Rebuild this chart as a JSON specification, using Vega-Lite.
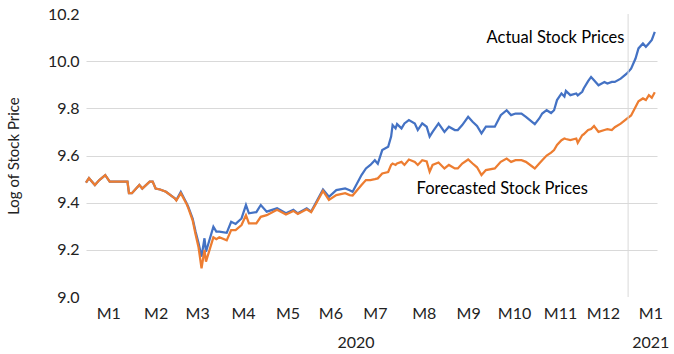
{
  "$schema": "https://vega.github.io/schema/vega-lite/v6.json",
  "width": 571,
  "height": 283,
  "autosize": {"type": "none"},
  "padding": {"left": 86, "top": 14, "right": 17, "bottom": 57},
  "config": {"font": "Lato", "view": {"stroke": null}, "background": "white"},
  "resolve": {"axis": {"x": "independent"}},
  "layer": [
    {
      "data": {"values": [
        {"date": "2020-01-01", "actual": 9.485, "forecast": 9.485},
        {"date": "2020-01-03", "actual": 9.504, "forecast": 9.504},
        {"date": "2020-01-07", "actual": 9.475, "forecast": 9.475},
        {"date": "2020-01-10", "actual": 9.496, "forecast": 9.496},
        {"date": "2020-01-14", "actual": 9.517, "forecast": 9.517},
        {"date": "2020-01-17", "actual": 9.489, "forecast": 9.489},
        {"date": "2020-01-29", "actual": 9.489, "forecast": 9.489},
        {"date": "2020-01-30", "actual": 9.44, "forecast": 9.44},
        {"date": "2020-02-01", "actual": 9.44, "forecast": 9.44},
        {"date": "2020-02-06", "actual": 9.475, "forecast": 9.475},
        {"date": "2020-02-08", "actual": 9.46, "forecast": 9.46},
        {"date": "2020-02-13", "actual": 9.489, "forecast": 9.489},
        {"date": "2020-02-15", "actual": 9.489, "forecast": 9.489},
        {"date": "2020-02-17", "actual": 9.46, "forecast": 9.46},
        {"date": "2020-02-20", "actual": 9.456, "forecast": 9.456},
        {"date": "2020-02-24", "actual": 9.446, "forecast": 9.446},
        {"date": "2020-03-01", "actual": 9.418, "forecast": 9.418},
        {"date": "2020-03-02", "actual": 9.411, "forecast": 9.409},
        {"date": "2020-03-05", "actual": 9.446, "forecast": 9.44},
        {"date": "2020-03-09", "actual": 9.397, "forecast": 9.393},
        {"date": "2020-03-10", "actual": 9.383, "forecast": 9.378},
        {"date": "2020-03-13", "actual": 9.333, "forecast": 9.325},
        {"date": "2020-03-15", "actual": 9.277, "forecast": 9.265},
        {"date": "2020-03-17", "actual": 9.228, "forecast": 9.21},
        {"date": "2020-03-19", "actual": 9.171, "forecast": 9.122},
        {"date": "2020-03-21", "actual": 9.249, "forecast": 9.2},
        {"date": "2020-03-22", "actual": 9.192, "forecast": 9.15},
        {"date": "2020-03-27", "actual": 9.298, "forecast": 9.253},
        {"date": "2020-03-29", "actual": 9.277, "forecast": 9.245},
        {"date": "2020-03-31", "actual": 9.277, "forecast": 9.253},
        {"date": "2020-04-05", "actual": 9.272, "forecast": 9.24},
        {"date": "2020-04-08", "actual": 9.319, "forecast": 9.284},
        {"date": "2020-04-11", "actual": 9.31, "forecast": 9.284},
        {"date": "2020-04-15", "actual": 9.333, "forecast": 9.305},
        {"date": "2020-04-18", "actual": 9.39, "forecast": 9.347},
        {"date": "2020-04-20", "actual": 9.355, "forecast": 9.312},
        {"date": "2020-04-25", "actual": 9.36, "forecast": 9.312},
        {"date": "2020-04-28", "actual": 9.39, "forecast": 9.34},
        {"date": "2020-05-02", "actual": 9.362, "forecast": 9.347},
        {"date": "2020-05-09", "actual": 9.376, "forecast": 9.37},
        {"date": "2020-05-15", "actual": 9.355, "forecast": 9.35},
        {"date": "2020-05-20", "actual": 9.37, "forecast": 9.365},
        {"date": "2020-05-23", "actual": 9.355, "forecast": 9.352},
        {"date": "2020-05-29", "actual": 9.376, "forecast": 9.372},
        {"date": "2020-06-01", "actual": 9.362, "forecast": 9.36},
        {"date": "2020-06-04", "actual": 9.397, "forecast": 9.392},
        {"date": "2020-06-09", "actual": 9.456, "forecast": 9.45},
        {"date": "2020-06-13", "actual": 9.425, "forecast": 9.412},
        {"date": "2020-06-18", "actual": 9.453, "forecast": 9.432},
        {"date": "2020-06-24", "actual": 9.46, "forecast": 9.44},
        {"date": "2020-06-27", "actual": 9.453, "forecast": 9.432},
        {"date": "2020-06-29", "actual": 9.446, "forecast": 9.43},
        {"date": "2020-07-05", "actual": 9.517, "forecast": 9.475},
        {"date": "2020-07-08", "actual": 9.545, "forecast": 9.496},
        {"date": "2020-07-11", "actual": 9.56, "forecast": 9.496},
        {"date": "2020-07-14", "actual": 9.58, "forecast": 9.5},
        {"date": "2020-07-16", "actual": 9.565, "forecast": 9.503},
        {"date": "2020-07-19", "actual": 9.623, "forecast": 9.524},
        {"date": "2020-07-23", "actual": 9.637, "forecast": 9.53},
        {"date": "2020-07-25", "actual": 9.68, "forecast": 9.56},
        {"date": "2020-07-26", "actual": 9.729, "forecast": 9.566},
        {"date": "2020-07-28", "actual": 9.715, "forecast": 9.56},
        {"date": "2020-07-29", "actual": 9.733, "forecast": 9.566},
        {"date": "2020-08-01", "actual": 9.715, "forecast": 9.573},
        {"date": "2020-08-03", "actual": 9.736, "forecast": 9.56},
        {"date": "2020-08-06", "actual": 9.75, "forecast": 9.583},
        {"date": "2020-08-10", "actual": 9.736, "forecast": 9.573},
        {"date": "2020-08-12", "actual": 9.708, "forecast": 9.56},
        {"date": "2020-08-15", "actual": 9.736, "forecast": 9.58},
        {"date": "2020-08-18", "actual": 9.722, "forecast": 9.575},
        {"date": "2020-08-20", "actual": 9.68, "forecast": 9.531},
        {"date": "2020-08-22", "actual": 9.7, "forecast": 9.56},
        {"date": "2020-08-26", "actual": 9.736, "forecast": 9.57},
        {"date": "2020-08-30", "actual": 9.7, "forecast": 9.545},
        {"date": "2020-09-02", "actual": 9.722, "forecast": 9.56},
        {"date": "2020-09-06", "actual": 9.708, "forecast": 9.545},
        {"date": "2020-09-08", "actual": 9.708, "forecast": 9.545},
        {"date": "2020-09-11", "actual": 9.729, "forecast": 9.566},
        {"date": "2020-09-15", "actual": 9.764, "forecast": 9.583},
        {"date": "2020-09-18", "actual": 9.743, "forecast": 9.566},
        {"date": "2020-09-21", "actual": 9.725, "forecast": 9.55},
        {"date": "2020-09-24", "actual": 9.694, "forecast": 9.517},
        {"date": "2020-09-27", "actual": 9.722, "forecast": 9.538},
        {"date": "2020-10-03", "actual": 9.722, "forecast": 9.545},
        {"date": "2020-10-07", "actual": 9.771, "forecast": 9.573},
        {"date": "2020-10-11", "actual": 9.792, "forecast": 9.587},
        {"date": "2020-10-14", "actual": 9.771, "forecast": 9.573},
        {"date": "2020-10-17", "actual": 9.778, "forecast": 9.58},
        {"date": "2020-10-21", "actual": 9.778, "forecast": 9.58},
        {"date": "2020-10-24", "actual": 9.764, "forecast": 9.573},
        {"date": "2020-10-30", "actual": 9.733, "forecast": 9.545},
        {"date": "2020-11-02", "actual": 9.757, "forecast": 9.566},
        {"date": "2020-11-04", "actual": 9.778, "forecast": 9.58},
        {"date": "2020-11-07", "actual": 9.792, "forecast": 9.6},
        {"date": "2020-11-10", "actual": 9.78, "forecast": 9.612},
        {"date": "2020-11-12", "actual": 9.792, "forecast": 9.623},
        {"date": "2020-11-14", "actual": 9.835, "forecast": 9.645},
        {"date": "2020-11-17", "actual": 9.863, "forecast": 9.665},
        {"date": "2020-11-19", "actual": 9.85, "forecast": 9.672},
        {"date": "2020-11-20", "actual": 9.874, "forecast": 9.67},
        {"date": "2020-11-23", "actual": 9.856, "forecast": 9.665},
        {"date": "2020-11-27", "actual": 9.863, "forecast": 9.672},
        {"date": "2020-11-28", "actual": 9.855, "forecast": 9.654},
        {"date": "2020-12-01", "actual": 9.87, "forecast": 9.686},
        {"date": "2020-12-02", "actual": 9.884, "forecast": 9.69},
        {"date": "2020-12-05", "actual": 9.915, "forecast": 9.708},
        {"date": "2020-12-07", "actual": 9.933, "forecast": 9.712},
        {"date": "2020-12-09", "actual": 9.919, "forecast": 9.725},
        {"date": "2020-12-12", "actual": 9.898, "forecast": 9.7},
        {"date": "2020-12-16", "actual": 9.912, "forecast": 9.708},
        {"date": "2020-12-18", "actual": 9.905, "forecast": 9.712},
        {"date": "2020-12-21", "actual": 9.912, "forecast": 9.708},
        {"date": "2020-12-23", "actual": 9.912, "forecast": 9.72},
        {"date": "2020-12-27", "actual": 9.926, "forecast": 9.735},
        {"date": "2020-12-31", "actual": 9.947, "forecast": 9.755},
        {"date": "2021-01-03", "actual": 9.968, "forecast": 9.77},
        {"date": "2021-01-06", "actual": 10.011, "forecast": 9.806},
        {"date": "2021-01-08", "actual": 10.054, "forecast": 9.83},
        {"date": "2021-01-11", "actual": 10.075, "forecast": 9.842},
        {"date": "2021-01-13", "actual": 10.061, "forecast": 9.835},
        {"date": "2021-01-15", "actual": 10.075, "forecast": 9.856},
        {"date": "2021-01-17", "actual": 10.09, "forecast": 9.845},
        {"date": "2021-01-19", "actual": 10.124, "forecast": 9.868}
      ]},
      "transform": [{"fold": ["actual", "forecast"], "as": ["series", "value"]}],
      "mark": {"type": "line", "strokeWidth": 2.25, "interpolate": "linear"},
      "encoding": {
        "x": {
          "field": "date", "type": "temporal",
          "scale": {"type": "utc", "domain": [
            {"year": 2020, "month": 1, "date": 1, "utc": true},
            {"year": 2021, "month": 1, "date": 20, "hours": 12, "utc": true}
          ]},
          "axis": {
            "orient": "bottom",
            "title": null, "grid": false, "domain": false, "ticks": false,
            "labelFontSize": 16, "labelColor": "#222222", "labelPadding": 8, "labelAlign": "center",
            "values": [
              {"year": 2020, "month": 1, "date": 16, "utc": true},
              {"year": 2020, "month": 2, "date": 17, "utc": true},
              {"year": 2020, "month": 3, "date": 16, "utc": true},
              {"year": 2020, "month": 4, "date": 16, "utc": true},
              {"year": 2020, "month": 5, "date": 16, "utc": true},
              {"year": 2020, "month": 6, "date": 14, "utc": true},
              {"year": 2020, "month": 7, "date": 14, "utc": true},
              {"year": 2020, "month": 8, "date": 16, "utc": true},
              {"year": 2020, "month": 9, "date": 15, "utc": true},
              {"year": 2020, "month": 10, "date": 16, "utc": true},
              {"year": 2020, "month": 11, "date": 16, "utc": true},
              {"year": 2020, "month": 12, "date": 15, "utc": true},
              {"year": 2021, "month": 1, "date": 16, "utc": true}
            ],
            "labelExpr": "'M' + (utcmonth(datum.value) + 1)"
          }
        },
        "y": {
          "field": "value", "type": "quantitative",
          "scale": {"domain": [9.0, 10.2], "zero": false, "nice": false},
          "axis": {
            "title": "Log of Stock Price", "titleFontSize": 15, "titleFontWeight": "normal", "titleColor": "#222222",
            "titlePadding": 26,
            "values": [9.0, 9.2, 9.4, 9.6, 9.8, 10.0, 10.2], "format": ".1f",
            "labelFontSize": 16, "labelColor": "#222222", "labelPadding": 7,
            "domain": false, "ticks": false, "grid": true, "gridColor": "#d9d9d9", "gridWidth": 1,
            "gridOpacity": {"condition": {"test": "datum.value < 9.1 || datum.value > 10.1", "value": 0}, "value": 1}
          }
        },
        "color": {
          "field": "series", "type": "nominal",
          "scale": {"domain": ["actual", "forecast"], "range": ["#4472C4", "#ED7D31"]},
          "legend": null
        }
      }
    },
    {
      "data": {"values": [{"date": "2021-01-01"}]},
      "mark": {"type": "rule", "color": "#d9d9d9", "strokeWidth": 1},
      "encoding": {
        "x": {
          "field": "date", "type": "temporal",
          "axis": {
            "orient": "bottom",
            "title": null, "grid": false, "domain": false, "ticks": false,
            "labelFontSize": 16, "labelColor": "#222222", "labelPadding": 37, "labelAlign": "center",
            "values": [
              {"year": 2020, "month": 7, "date": 1, "utc": true},
              {"year": 2021, "month": 1, "date": 16, "utc": true}
            ],
            "labelExpr": "'' + utcyear(datum.value)"
          }
        }
      }
    },
    {
      "data": {"values": [
        {"date": "2020-11-13", "value": 10.1, "label": "Actual Stock Prices"},
        {"date": "2020-10-08", "value": 9.458, "label": "Forecasted Stock Prices"}
      ]},
      "mark": {"type": "text", "fontSize": 16.5, "color": "#000000", "align": "center", "baseline": "middle"},
      "encoding": {
        "x": {"field": "date", "type": "temporal", "axis": null},
        "y": {"field": "value", "type": "quantitative"},
        "text": {"field": "label"}
      }
    }
  ]
}
